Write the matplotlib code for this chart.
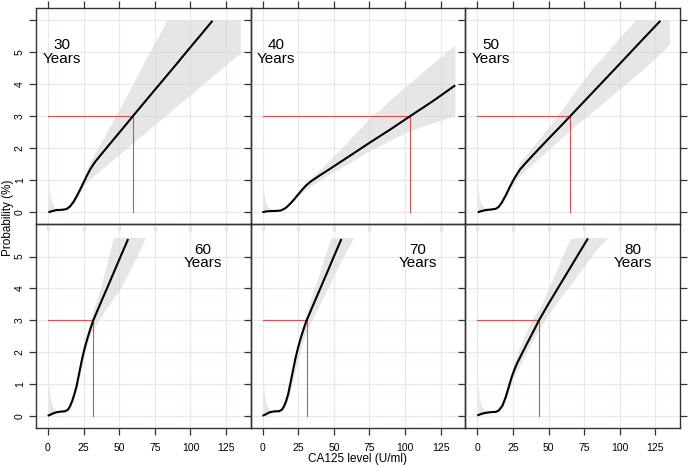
import numpy as np
import matplotlib.pyplot as plt

plt.rcParams['font.family'] = ['Liberation Sans', 'DejaVu Sans']

ages = [30, 40, 50, 60, 70, 80]
cut_x = [59.7, 103.7, 65.3, 31.8, 30.9, 43.3]   # CA125 where risk reaches 3%
risk_level = 3
xticks = [0, 25, 50, 75, 100, 125]

# fitted curves (CA125, probability %)
x_30 = [1, 3, 6, 10, 13, 15.4, 18, 20, 22.5, 25, 27.5, 30, 33, 37, 42, 48, 54, 59.7, 70, 80, 90, 100, 107, 115]
p_30 = [0.0, 0.03, 0.06, 0.07, 0.09, 0.17, 0.32, 0.48, 0.69, 0.92, 1.15, 1.36, 1.56, 1.78, 2.05, 2.37, 2.69, 3.0, 3.55, 4.08, 4.61, 5.15, 5.52, 5.95]
x_40 = [0.5, 3, 6, 10, 13, 16, 18, 20, 22, 24.6, 28, 31, 34, 37, 40, 48, 60, 76, 90, 103.7, 120, 134.6]
p_40 = [0.0, 0.02, 0.03, 0.035, 0.05, 0.12, 0.2, 0.29, 0.39, 0.53, 0.71, 0.85, 0.96, 1.05, 1.14, 1.37, 1.72, 2.19, 2.59, 3.0, 3.48, 3.94]
x_50 = [1, 3, 6, 10, 13, 15, 17, 20, 23, 26, 30, 35, 40, 50, 60, 65.3, 80, 100, 115, 128]
p_50 = [0.0, 0.03, 0.06, 0.08, 0.1, 0.16, 0.28, 0.52, 0.8, 1.05, 1.33, 1.58, 1.82, 2.29, 2.75, 3.0, 3.69, 4.63, 5.34, 5.95]
x_60 = [0.5, 2, 4, 6, 9, 12, 14, 15.4, 17, 18.5, 20, 22, 24, 26, 28, 30, 31.8, 34, 38, 42, 46, 50, 56]
p_60 = [0.02, 0.05, 0.09, 0.12, 0.14, 0.15, 0.2, 0.3, 0.47, 0.68, 0.92, 1.36, 1.8, 2.17, 2.48, 2.76, 3.0, 3.23, 3.65, 4.06, 4.48, 4.9, 5.52]
x_70 = [0.5, 2, 4, 6, 9, 11.5, 13.5, 15, 16.5, 18, 19, 21, 23, 25, 27, 29, 30.9, 35, 40, 45, 50, 55]
p_70 = [0.02, 0.05, 0.1, 0.13, 0.15, 0.15, 0.2, 0.3, 0.47, 0.7, 0.92, 1.36, 1.8, 2.17, 2.48, 2.76, 3.0, 3.43, 3.95, 4.47, 5.0, 5.52]
x_80 = [0.7, 3, 5.9, 9, 12.9, 15, 17.6, 20, 22, 24, 26, 28, 31.6, 35, 40, 43.3, 50, 57, 65, 72, 77.3]
p_80 = [0.03, 0.07, 0.1, 0.12, 0.13, 0.17, 0.32, 0.6, 0.9, 1.2, 1.45, 1.66, 1.98, 2.28, 2.71, 3.0, 3.52, 4.04, 4.63, 5.15, 5.54]

# confidence bands
bx_30 = [0.5, 1.5, 3, 5, 10, 15, 20, 25, 30, 40, 50, 60, 70, 80, 83.4, 90, 100, 110, 120, 135]
lo_30 = [0.0, 0.01, 0.02, 0.03, 0.05, 0.12, 0.36, 0.82, 1.05, 1.42, 1.8, 2.17, 2.55, 2.92, 3.05, 3.3, 3.66, 4.04, 4.41, 4.97]
hi_30 = [0.9, 0.5, 0.25, 0.13, 0.1, 0.24, 0.6, 1.12, 1.6, 2.4, 3.2, 4.05, 4.9, 5.7, 6.0, 6.0, 6.0, 6.0, 6.0, 6.0]
bx_40 = [0.5, 1.5, 3, 6, 10, 13, 16, 20, 25, 30, 40, 50, 60, 70, 76, 80, 90, 100, 110, 120, 135]
lo_40 = [0.0, 0.0, 0.01, 0.02, 0.03, 0.04, 0.11, 0.26, 0.48, 0.7, 1.0, 1.25, 1.52, 1.78, 1.95, 2.03, 2.25, 2.47, 2.65, 2.8, 3.0]
hi_40 = [0.75, 0.4, 0.2, 0.08, 0.06, 0.07, 0.16, 0.36, 0.63, 0.92, 1.32, 1.75, 2.22, 2.68, 3.0, 3.12, 3.53, 3.91, 4.29, 4.67, 5.22]
bx_50 = [0.5, 1.5, 3, 5, 10, 15, 20, 25, 30, 40, 50, 60, 65, 70, 80, 90, 100, 111, 120, 135]
lo_50 = [0.0, 0.01, 0.02, 0.03, 0.06, 0.13, 0.45, 0.85, 1.15, 1.55, 1.95, 2.35, 2.55, 2.74, 3.1, 3.47, 3.85, 4.26, 4.6, 5.25]
hi_50 = [0.85, 0.45, 0.22, 0.13, 0.1, 0.22, 0.62, 1.1, 1.55, 2.1, 2.65, 3.25, 3.55, 3.85, 4.45, 4.95, 5.45, 6.0, 6.0, 6.0]
bx_60 = [0.5, 1.5, 3, 5, 8, 12, 14, 16, 18, 20, 22, 25, 28, 30, 35, 40, 46, 50, 55, 60, 65, 68.5]
lo_60 = [0.0, 0.01, 0.04, 0.07, 0.1, 0.13, 0.17, 0.3, 0.5, 0.8, 1.2, 1.8, 2.3, 2.6, 2.95, 3.3, 3.7, 3.93, 4.35, 4.8, 5.25, 5.6]
hi_60 = [0.95, 0.6, 0.32, 0.18, 0.15, 0.17, 0.25, 0.45, 0.75, 1.1, 1.5, 2.2, 2.75, 3.05, 3.75, 4.55, 5.6, 5.6, 5.6, 5.6, 5.6, 5.6]
bx_70 = [0.5, 1.5, 3, 5, 8, 12, 14, 16, 18, 20, 22, 25, 28, 30, 35, 40, 45, 48, 50, 55, 60, 64]
lo_70 = [0.0, 0.01, 0.04, 0.07, 0.11, 0.13, 0.17, 0.3, 0.55, 0.85, 1.22, 1.8, 2.3, 2.6, 3.05, 3.5, 3.95, 4.2, 4.4, 4.85, 5.25, 5.6]
hi_70 = [0.95, 0.6, 0.32, 0.18, 0.16, 0.17, 0.28, 0.5, 0.85, 1.2, 1.6, 2.25, 2.8, 3.12, 3.8, 4.5, 5.2, 5.6, 5.6, 5.6, 5.6, 5.6]
bx_80 = [0.5, 1.5, 3, 6, 10, 14, 18, 22, 26, 30, 35, 40, 45, 50, 55, 60, 65, 70, 75, 80, 85, 92]
lo_80 = [0.0, 0.01, 0.05, 0.09, 0.11, 0.12, 0.3, 0.75, 1.25, 1.6, 2.05, 2.45, 2.85, 3.2, 3.5, 3.8, 4.1, 4.4, 4.7, 5.0, 5.3, 5.6]
hi_80 = [0.95, 0.55, 0.3, 0.16, 0.14, 0.2, 0.5, 1.1, 1.7, 2.2, 2.7, 3.15, 3.48, 4.0, 4.5, 5.05, 5.55, 5.6, 5.6, 5.6, 5.6, 5.6]

curves = [(x_30, p_30), (x_40, p_40), (x_50, p_50), (x_60, p_60), (x_70, p_70), (x_80, p_80)]
bands = [(bx_30, lo_30, hi_30), (bx_40, lo_40, hi_40), (bx_50, lo_50, hi_50),
         (bx_60, lo_60, hi_60), (bx_70, lo_70, hi_70), (bx_80, lo_80, hi_80)]

fig = plt.figure(figsize=(6.88, 4.66), dpi=100)
fig.patch.set_facecolor('white')
gs = fig.add_gridspec(2, 3, left=36/688, right=680/688, top=1-8/466, bottom=1-428/466,
                      wspace=0, hspace=0, height_ratios=[216, 204])

frame = '#333333'
for i, age in enumerate(ages):
    r, c = divmod(i, 3)
    ax = fig.add_subplot(gs[r, c])
    ax.set_facecolor('none')
    ax.set_xlim(-8.4, 142.3)
    if r == 0:
        ax.set_ylim(-0.375, 6.375)
        ax.set_yticks(range(7))
        ax.set_yticklabels(['0', '1', '2', '3', '4', '5', ''])
    else:
        ax.set_ylim(-0.375, 6.02)
        ax.set_yticks(range(6))
    ax.set_xticks(xticks)
    ax.grid(True, color='#e2ecee', lw=0.9)
    ax.set_axisbelow(True)

    bx, lo, hi = bands[i]
    ax.fill_between(bx, lo, hi, color='#d6d6d6', alpha=0.6, lw=0, zorder=1)
    cx = cut_x[i]
    ax.plot([0, cx, cx], [risk_level, risk_level, 0], color='#e5484d', lw=0.8, zorder=2)
    x, p = curves[i]
    ax.plot(x, p, color='black', lw=1.5, zorder=3, solid_joinstyle='round')

    if r == 0:
        ax.text(9.6, 5.0, f'{age}\nYears', ha='center', va='center', fontsize=11, linespacing=0.95)
    else:
        ax.text(109, 5.0, f'{age}\nYears', ha='center', va='center', fontsize=11, linespacing=0.95)

    ax.tick_params(direction='out', length=5, width=0.9, color=frame, labelsize=7.5,
                   top=(r == 0), right=(c == 2), labelleft=(c == 0), labelbottom=(r == 1))
    ax.tick_params(axis='x', pad=6)
    ax.tick_params(axis='y', pad=3)
    for lab in ax.get_yticklabels():
        lab.set_rotation(90)
        lab.set_va('center')
    for s in ax.spines.values():
        s.set_color(frame)
        s.set_linewidth(1.0)

fig.text(8/688, 1-218/466, 'Probability (%)', rotation=90, ha='center', va='center', fontsize=8.5)
fig.text(358/688, 1-459/466, 'CA125 level (U/ml)', ha='center', va='center', fontsize=8.5)

fig.savefig('out.png', dpi=100)
